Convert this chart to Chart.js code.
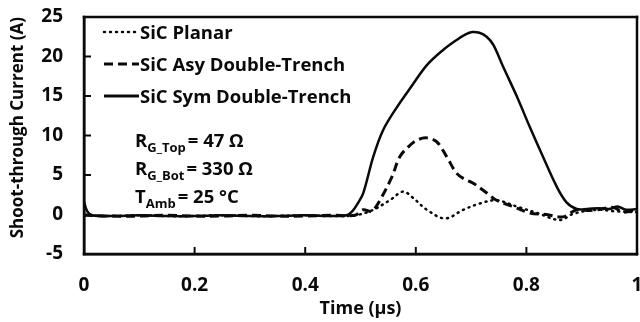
<!DOCTYPE html>
<html>
<head>
<meta charset="utf-8">
<script src="https://cdn.jsdelivr.net/npm/chart.js@4"></script>
<style>
  html, body { margin: 0; padding: 0; background: #fff; }
  #wrap { width: 640px; height: 322px; }
</style>
</head>
<body>
<div id="wrap"><canvas id="chart-shoot"></canvas></div>
<script>
// shoot-through current vs time
const xTicks = [0, 0.2, 0.4, 0.6, 0.8, 1];
const yTicks = [-5, 0, 5, 10, 15, 20, 25];

const seriesNames = ['SiC Planar', 'SiC Asy Double-Trench', 'SiC Sym Double-Trench'];

const planarT = [0, 0.05, 0.1, 0.15, 0.2, 0.25, 0.3, 0.35, 0.4, 0.45, 0.49, 0.52, 0.553, 0.577, 0.595, 0.62, 0.653, 0.686, 0.716, 0.746, 0.783, 0.819, 0.861, 0.885, 0.928, 0.96, 1.0];
const planarI = [-0.1, -0.2, -0.1, -0.2, -0.2, -0.1, -0.2, -0.2, -0.1, -0.2, -0.1, 0.5, 1.8, 2.9, 2.1, 0.6, -0.5, 0.6, 1.4, 1.8, 1.0, 0.2, -0.7, 0.1, 0.6, 0.4, 0.3];

const asyT = [0, 0.05, 0.1, 0.15, 0.2, 0.25, 0.3, 0.35, 0.4, 0.45, 0.49, 0.505, 0.52, 0.535, 0.557, 0.571, 0.59, 0.605, 0.62, 0.638, 0.656, 0.674, 0.69, 0.703, 0.729, 0.746, 0.776, 0.806, 0.836, 0.866, 0.891, 0.91, 0.93, 0.957, 0.975, 1.0];
const asyI = [-0.1, -0.2, -0.2, -0.1, -0.2, -0.2, -0.1, -0.2, -0.2, -0.1, -0.1, 0.6, 0.4, 1.8, 4.8, 7.3, 8.8, 9.5, 9.7, 9.2, 7.3, 5.2, 4.4, 4.0, 2.7, 1.8, 1.0, 0.2, 0.0, -0.3, 0.6, 0.5, 0.6, 0.9, 0.3, 0.6];

const symT = [0, 0.006, 0.015, 0.05, 0.1, 0.15, 0.2, 0.25, 0.3, 0.35, 0.4, 0.45, 0.475, 0.485, 0.495, 0.505, 0.523, 0.541, 0.566, 0.59, 0.62, 0.649, 0.674, 0.69, 0.702, 0.715, 0.728, 0.74, 0.758, 0.783, 0.806, 0.83, 0.855, 0.873, 0.891, 0.91, 0.93, 0.95, 0.965, 0.98, 1.0];
const symI = [1.6, 0.4, -0.1, -0.2, -0.1, -0.2, -0.2, -0.1, -0.2, -0.2, -0.1, -0.2, -0.1, 0.4, 1.4, 2.7, 7.3, 10.7, 13.6, 16.0, 18.9, 20.8, 22.1, 22.8, 23.1, 23.0, 22.5, 21.5, 18.7, 14.9, 11.1, 7.3, 3.5, 1.5, 0.7, 0.7, 0.8, 0.7, 1.0, 0.6, 0.7];

const noteMain = ['R', 'R', 'T'];
const noteSub = ['G_Top', 'G_Bot', 'Amb'];
const noteRest = ['= 47 Ω', '= 330 Ω', '= 25 °C'];

const FONT = '"Open Sans", sans-serif';
const INK = '#0a0a0a';
const dashes = [[1, 5], [9, 5], []];

const toXY = (ts, vs) => ts.map((t, i) => ({ x: t, y: vs[i] }));

const framePlugin = {
  id: 'frame',
  afterDraw(chart) {
    const { ctx, chartArea: a, scales: { x, y } } = chart;
    ctx.save();
    ctx.fillStyle = INK;
    ctx.strokeStyle = INK;

    // legend
    ctx.textBaseline = 'alphabetic';
    ctx.textAlign = 'left';
    seriesNames.forEach((name, i) => {
      const cy = 32 + i * 32;
      ctx.lineWidth = i === 0 ? 2.5 : 3;
      ctx.lineCap = i === 0 ? 'round' : 'butt';
      ctx.setLineDash(dashes[i]);
      ctx.beginPath();
      ctx.moveTo(104, cy); ctx.lineTo(139, cy);
      ctx.stroke();
      ctx.setLineDash([]);
      ctx.font = 'bold 18.5px ' + FONT;
      ctx.fillText(name, 140, cy + 7);
    });

    // test conditions
    noteMain.forEach((m, i) => {
      const base = 147 + i * 28;
      let px = 135;
      ctx.font = 'bold 18.5px ' + FONT;
      ctx.fillText(m, px, base);
      px += ctx.measureText(m).width;
      ctx.font = 'bold 13px ' + FONT;
      ctx.fillText(noteSub[i], px, base + 5);
      px += ctx.measureText(noteSub[i]).width + 2;
      ctx.font = 'bold 18.5px ' + FONT;
      ctx.fillText(noteRest[i], px, base);
    });

    // plot frame as filled bars
    const w = 2.5, h = w / 2;
    ctx.fillRect(a.left - h, a.top - h, a.right - a.left + w, w);
    ctx.fillRect(a.left - h, a.bottom - h, a.right - a.left + w, w);
    ctx.fillRect(a.left - h, a.top - h, w, a.bottom - a.top + w);
    ctx.fillRect(a.right - h, a.top - h, w, a.bottom - a.top + w);

    // inward tick marks
    yTicks.slice(1, -1).forEach(v => {
      ctx.fillRect(a.left, y.getPixelForValue(v) - 1, 7, 2);
    });
    xTicks.slice(1, -1).forEach(v => {
      ctx.fillRect(x.getPixelForValue(v) - 1, a.bottom - 7, 2, 7);
    });
    ctx.restore();
  }
};

new Chart(document.getElementById('chart-shoot'), {
  type: 'line',
  plugins: [framePlugin],
  data: {
    datasets: [
      { label: seriesNames[0], data: toXY(planarT, planarI), borderDash: dashes[0], borderCapStyle: 'round', borderWidth: 2.5 },
      { label: seriesNames[1], data: toXY(asyT, asyI), borderDash: dashes[1], borderWidth: 3 },
      { label: seriesNames[2], data: toXY(symT, symI), borderWidth: 2.5 },
    ].map(ds => ({ ...ds, borderColor: INK, backgroundColor: INK, pointRadius: 0, tension: 0.35, fill: false }))
  },
  options: {
    responsive: true, maintainAspectRatio: false, animation: false,
    layout: { padding: { top: 17, right: 3, left: 0, bottom: 0 } },
    plugins: { legend: { display: false }, tooltip: { enabled: false } },
    scales: {
      x: {
        type: 'linear', min: 0, max: 1,
        afterBuildTicks: s => { s.ticks = xTicks.map(v => ({ value: v })); },
        afterFit: s => { s.height = 68; s.paddingLeft = 0; s.paddingRight = 0; },
        grid: { display: false, drawTicks: false },
        border: { display: true, color: INK, width: 2.5 },
        ticks: { padding: 20, color: INK, font: { family: FONT, size: 19, weight: 'bold' }, callback: v => String(v) },
        title: { display: true, text: 'Time (µs)', color: INK, font: { family: FONT, size: 18, weight: 'bold' }, padding: { top: 0, bottom: 2 } }
      },
      y: {
        min: -5, max: 25,
        afterBuildTicks: s => { s.ticks = yTicks.map(v => ({ value: v })); },
        afterFit: s => { s.width = 84; s.paddingTop = 0; s.paddingBottom = 0; },
        grid: { display: false, drawTicks: false },
        border: { display: true, color: INK, width: 2.5 },
        ticks: { padding: 21, color: INK, font: { family: FONT, size: 19, weight: 'bold' } },
        title: { display: true, text: 'Shoot-through Current (A)', align: 'end', color: INK, font: { family: FONT, size: 17, weight: 'bold' }, padding: { top: 8, bottom: 0 } }
      }
    }
  }
});
</script>
</body>
</html>
